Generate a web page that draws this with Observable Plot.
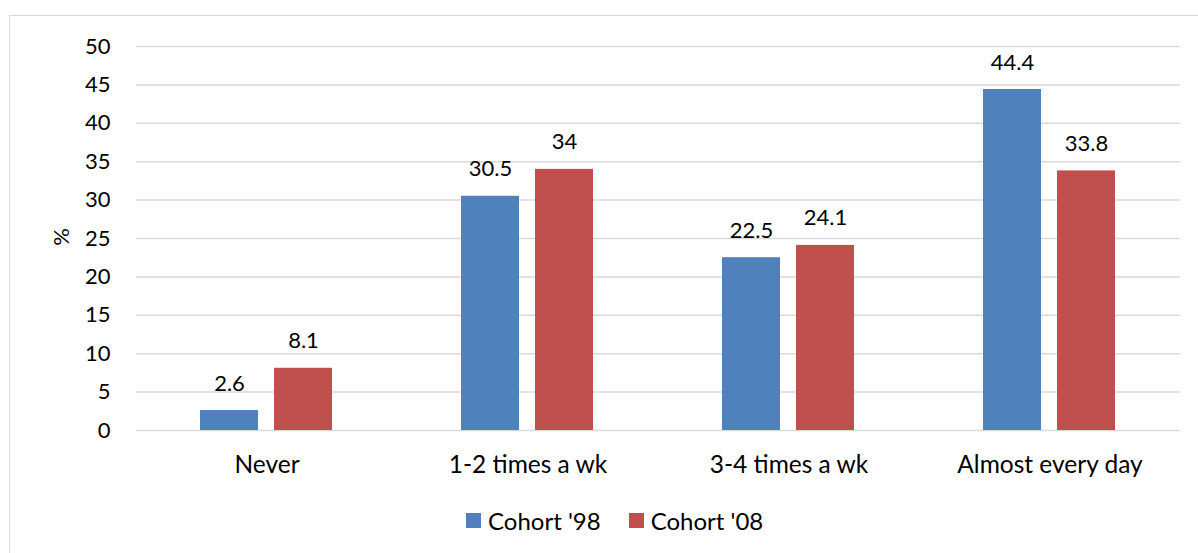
<!DOCTYPE html>
<html>
<head>
<meta charset="utf-8">
<script src="https://cdn.jsdelivr.net/npm/d3@7"></script>
<script src="https://cdn.jsdelivr.net/npm/@observablehq/plot@0.6"></script>
<style>
  html, body { margin: 0; padding: 0; background: #fff; }
  body { width: 1198px; height: 553px; overflow: hidden; position: relative; font-family: Lato, "Open Sans", sans-serif; }
  #frame { position: absolute; left: 9px; top: 15px; width: 1200px; height: 560px; border: 1px solid #d9d9d9; box-sizing: border-box; }
  #chart { position: absolute; left: 0; top: 0; }
  #ylabel { position: absolute; left: 60px; top: 237px; font-size: 22px; transform: translate(-50%, -50%) rotate(-90deg); color: #000; }
  #legend { position: absolute; top: 506px; left: 466px; display: flex; align-items: center; font-size: 24px; color: #000; }
  .item { display: flex; align-items: center; margin-right: 28px; }
  .sw { width: 15px; height: 15px; margin-right: 7px; }
  #chart svg g[aria-label="fx-axis tick label"] text { font-size: 24.5px; }
</style>
</head>
<body>
<div id="frame"></div>
<div id="chart"></div>
<div id="ylabel">%</div>
<div id="legend"></div>
<script>
const categories = ["Never", "1-2 times a wk", "3-4 times a wk", "Almost every day"];
const cohorts = ["Cohort '98", "Cohort '08"];
const cohort98 = [2.6, 30.5, 22.5, 44.4];
const cohort08 = [8.1, 34, 24.1, 33.8];
const colors = ["#4F81BD", "#C0504D"];

const data = [];
categories.forEach((c, i) => {
  data.push({category: c, cohort: cohorts[0], value: cohort98[i]});
  data.push({category: c, cohort: cohorts[1], value: cohort08[i]});
});

const chart = Plot.plot({
  width: 1198,
  height: 490,
  marginTop: 46,
  marginBottom: 60,
  marginLeft: 136,
  marginRight: 18,
  style: {fontFamily: "Lato, 'Open Sans', sans-serif", fontSize: "22px", color: "#000", background: "transparent"},
  fx: {domain: categories, padding: 0, label: null, tickSize: 0, tickPadding: 25},
  x: {domain: cohorts, paddingInner: 0.216, paddingOuter: 0.87, axis: null},
  y: {domain: [0, 50], ticks: d3.range(0, 51, 5), tickSize: 0, tickPadding: 26, label: null},
  color: {domain: cohorts, range: colors},
  marks: [
    Plot.ruleY(d3.range(0, 51, 5), {stroke: "#d9d9d9", strokeWidth: 1.5, strokeOpacity: 1}),
    Plot.barY(data, {fx: "category", x: "cohort", y: "value", fill: "cohort"}),
    Plot.text(data, {fx: "category", x: "cohort", y: "value", text: d => String(d.value), dy: -27, fontSize: 22, fill: "#000"})
  ]
});
document.getElementById("chart").appendChild(chart);

const legend = document.getElementById("legend");
cohorts.forEach((c, i) => {
  const item = document.createElement("div");
  item.className = "item";
  const sw = document.createElement("div");
  sw.className = "sw";
  sw.style.background = colors[i];
  const t = document.createElement("span");
  t.textContent = c;
  item.appendChild(sw);
  item.appendChild(t);
  legend.appendChild(item);
});
</script>
</body>
</html>
